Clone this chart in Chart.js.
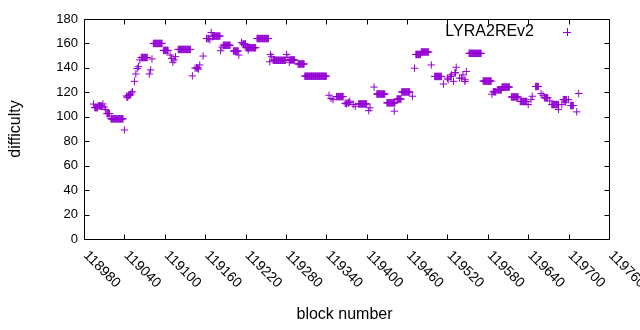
<!DOCTYPE html>
<html>
<head>
<meta charset="utf-8">
<script src="https://cdn.jsdelivr.net/npm/chart.js@4/dist/chart.umd.min.js"></script>
<style>
  html, body { margin: 0; padding: 0; background: #fff; }
  #wrap { width: 640px; height: 330px; }
</style>
</head>
<body>
<div id="wrap"><canvas id="diffChart" width="640" height="330"></canvas></div>
<script>
const runFirst = [118994,118996,119001,119005,119008,119010,119012,119014,119020,119040,
  119043,119044,119046,119048,119050,119052,119055,119057,119059,119061,
  119063,119065,119077,119079,119081,119083,119098,119108,119110,119112,
  119114,119116,119120,119141,119145,119147,119150,119152,119157,119162,
  119165,119167,119169,119171,119183,119185,119187,119202,119210,119214,
  119216,119221,119224,119237,119256,119257,119259,119261,119281,119283,
  119285,119286,119298,119308,119344,119347,119350,119355,119368,119370,
  119372,119375,119380,119383,119388,119403,119405,119411,119415,119430,
  119441,119445,119452,119468,119471,119473,119481,119496,119501,119514,
  119520,119521,119524,119526,119529,119531,119533,119538,119541,119543,
  119546,119546,119548,119552,119573,119586,119588,119594,119601,119615,
  119628,119640,119644,119646,119651,119659,119662,119664,119672,119675,
  119685,119690,119692,119695,119700,119703,119712,119715];
const runLast = [118994,119000,119004,119007,119008,119010,119012,119018,119038,119040,
  119043,119045,119047,119049,119050,119052,119055,119057,119059,119061,
  119063,119074,119077,119079,119081,119096,119105,119108,119110,119112,
  119114,119116,119138,119141,119145,119149,119150,119152,119157,119163,
  119165,119167,119169,119182,119183,119185,119197,119209,119210,119214,
  119220,119235,119224,119254,119256,119257,119259,119279,119281,119283,
  119285,119293,119307,119340,119344,119347,119350,119365,119369,119370,
  119374,119375,119380,119383,119400,119403,119405,119411,119427,119442,
  119441,119451,119464,119468,119471,119480,119492,119496,119511,119514,
  119520,119521,119525,119526,119529,119532,119533,119538,119541,119543,
  119546,119546,119548,119570,119585,119586,119592,119600,119612,119625,
  119638,119640,119644,119646,119655,119659,119662,119669,119672,119685,
  119685,119690,119697,119695,119700,119707,119712,119715];
const runDiff = [110.4,107.5,109,108.5,110.5,108,106,102.6,98.3,89.2,
  117,116,117.5,118,119.5,120.5,129,135,139.5,141,
  146.5,148.5,135,138.4,147.3,160,154.3,150.5,147.8,144.6,
  146.5,149.2,155.1,133.5,139.7,140,139,142.4,149.7,164,
  164,163,169,166,154,157,158.5,153.8,150.5,160.8,
  159.5,156.5,154.6,164,145,151,149.2,146.2,151,148.6,
  144.6,146.5,143.2,133.2,117.6,115,114,116.5,111,110.5,
  111.5,112.7,110,108.6,110.5,105,107.3,124.3,118.6,111.4,
  104.6,114.5,120.3,116.8,139.7,151,153,142.4,133,126.8,
  131.6,130.3,133,134.3,129,136,140.5,131.6,131.6,134.3,
  130.3,128.9,137,151.9,129.2,118.5,120.5,122,124.3,116.2,
  112.5,110,114,116.8,124.8,119,117.6,115.6,113,110,
  106,110,114,112,114,109.2,104,119];

const xTicks = [118980,119040,119100,119160,119220,119280,119340,119400,119460,119520,119580,119640,119700,119760];
const yTicks = [0,20,40,60,80,100,120,140,160,180];
const seriesName = 'LYRA2REv2';
const violet = '#9400d3';

const points = [];
for (let i = 0; i < runFirst.length; i++) {
  for (let b = runFirst[i]; b <= runLast[i]; b++) {
    points.push({ x: b, y: runDiff[i] });
  }
}

// gnuplot-like frame: border, inward mirrored ticks, rotated x labels
const frame = {
  id: 'frame',
  beforeDatasetsDraw(chart) {
    const { ctx, chartArea: a, scales: { x, y } } = chart;
    const L = Math.round(a.left) + 0.5, R = Math.round(a.right) + 0.5;
    const T = Math.round(a.top) + 0.5, B = Math.round(a.bottom) + 0.5;
    ctx.save();
    ctx.strokeStyle = '#000';
    ctx.lineWidth = 1;
    ctx.beginPath();
    ctx.rect(L, T, R - L, B - T);
    xTicks.forEach(v => {
      const px = Math.round(x.getPixelForValue(v)) + 0.5;
      ctx.moveTo(px, B); ctx.lineTo(px, B - 5);
      ctx.moveTo(px, T); ctx.lineTo(px, T + 5);
    });
    yTicks.forEach(v => {
      const py = Math.round(y.getPixelForValue(v)) + 0.5;
      ctx.moveTo(L, py); ctx.lineTo(L + 5, py);
      ctx.moveTo(R, py); ctx.lineTo(R - 5, py);
    });
    ctx.stroke();

    ctx.fillStyle = '#000';
    ctx.font = '13px "Liberation Sans", Arial, sans-serif';
    ctx.textAlign = 'right';
    ctx.textBaseline = 'middle';
    yTicks.forEach(v => ctx.fillText(String(v), a.left - 6, y.getPixelForValue(v)));

    ctx.font = '14px "Liberation Sans", Arial, sans-serif';
    ctx.textAlign = 'left';
    ctx.textBaseline = 'alphabetic';
    xTicks.forEach(v => {
      ctx.save();
      ctx.translate(x.getPixelForValue(v) - 1, a.bottom + 17);
      ctx.rotate(Math.PI / 4);
      ctx.fillText(String(v), 0, 0);
      ctx.restore();
    });

    ctx.font = '16px "Liberation Sans", Arial, sans-serif';
    ctx.textAlign = 'center';
    ctx.textBaseline = 'middle';
    ctx.fillText('block number', (a.left + a.right) / 2 - 2, 315);
    ctx.save();
    ctx.translate(16, (a.top + a.bottom) / 2);
    ctx.rotate(-Math.PI / 2);
    ctx.fillText('difficulty', 0, 0);
    ctx.restore();
    ctx.restore();
  },
  afterDatasetsDraw(chart) {
    const { ctx } = chart;
    ctx.save();
    ctx.fillStyle = '#000';
    ctx.font = '16px "Liberation Sans", Arial, sans-serif';
    ctx.textAlign = 'right';
    ctx.textBaseline = 'middle';
    ctx.fillText(seriesName, 534, 32);
    ctx.strokeStyle = violet;
    ctx.lineWidth = 1;
    ctx.beginPath();
    ctx.moveTo(563, 32.5); ctx.lineTo(571, 32.5);
    ctx.moveTo(567.5, 28); ctx.lineTo(567.5, 36);
    ctx.stroke();
    ctx.restore();
  }
};

new Chart(document.getElementById('diffChart'), {
  type: 'scatter',
  data: {
    datasets: [{
      label: seriesName,
      data: points,
      pointStyle: 'cross',
      pointRadius: 3.7,
      pointHoverRadius: 3.7,
      pointBorderWidth: 1,
      borderColor: violet,
      backgroundColor: violet,
      showLine: false
    }]
  },
  options: {
    responsive: false,
    animation: false,
    devicePixelRatio: 1,
    layout: { padding: { left: 84, right: 31, top: 19, bottom: 91 } },
    plugins: { legend: { display: false }, tooltip: { enabled: false } },
    scales: {
      x: { type: 'linear', min: 118980, max: 119760, display: false },
      y: { min: 0, max: 180, display: false }
    }
  },
  plugins: [frame]
});
</script>
</body>
</html>
